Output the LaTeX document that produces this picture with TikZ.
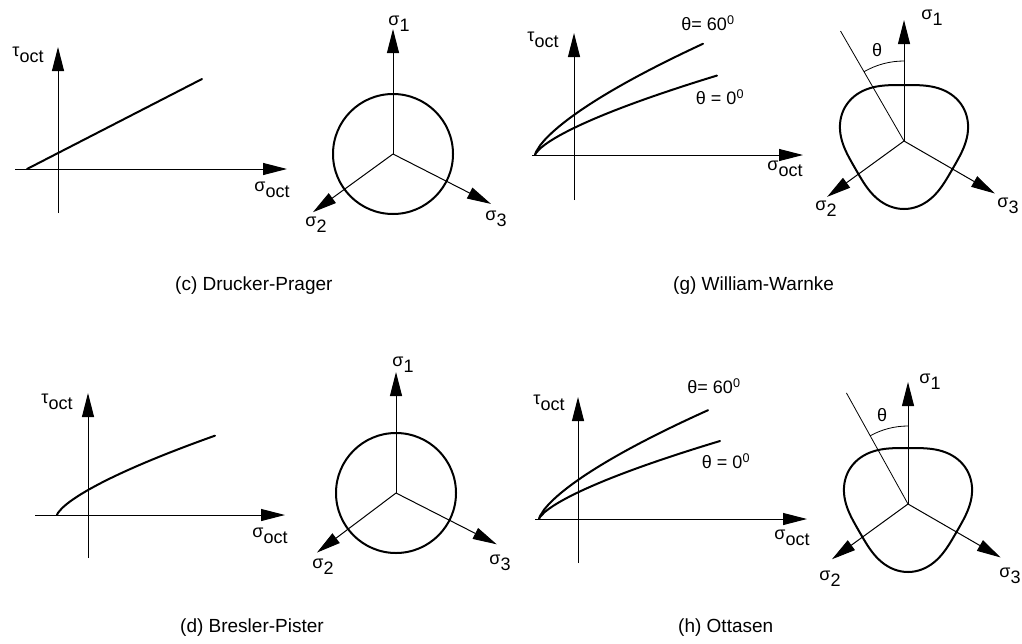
\documentclass[tikz,border=0pt]{standalone}
\usepackage{fontspec}
\setmainfont{Liberation Sans}
\usetikzlibrary{arrows.meta}

% letter with a lowered index in full size, as in the figure
\newcommand{\subl}[2]{#1\raisebox{-6pt}{#2}}

\begin{document}
\begin{tikzpicture}[x=1pt, y=-1pt, >={Triangle[length=24pt,width=12pt]},
  font=\fontsize{18}{20}\selectfont,
  ax/.style={line width=1pt, ->},
  thinline/.style={line width=0.8pt},
  curve/.style={line width=2pt, line cap=round},
  lbl/.style={inner sep=0pt},
  capt/.style={anchor=west, inner sep=0pt, font=\fontsize{19}{22}\selectfont},
  declare function={wwr(\p)=62+6*cos(3*(\p-30));}]
  \useasboundingbox (0,0) rectangle (1022,643);

  % (c) Drucker-Prager, meridian
  \draw[ax] (58,213) -- (58,47);
  \draw[ax] (15,169) -- (287,169);
  \draw[curve] (27,169) -- (202,79);
  \node[lbl] (c-tau) at (28,55) {\subl{τ}{oct}};
  \node[lbl] (c-sig) at (272,190) {\subl{σ}{oct}};

  % (c) deviatoric section
  \begin{scope}[shift={(393,154)}, yscale=-1]
    \draw[curve] (0,0) circle[radius=60];
    \draw[ax] (0,0) -- (90:125);
    \draw[ax] (0,0) -- (216:99);
    \draw[ax] (0,0) -- (333:110);
  \end{scope}
  \node[lbl] (c-s1) at (399,24) {\subl{σ}{1}};
  \node[lbl] (c-s2) at (316,225) {\subl{σ}{2}};
  \node[lbl] (c-s3) at (496,219) {\subl{σ}{3}};
  \node[capt] (c-cap) at (175,286) {(c) Drucker-Prager};

  % (g) William-Warnke, meridians
  \draw[ax] (574,200) -- (574,33);
  \draw[ax] (532,155) -- (803,155);
  \draw[curve] (535,155) -- plot[domain=1:168, samples=40] ({535+\x},{155-3.08*\x^0.7});
  \draw[curve] (535,155) -- plot[domain=1:182, samples=40] ({535+\x},{155-2.08*\x^0.7});
  \node[lbl] (g-tau) at (543,40) {\subl{τ}{oct}};
  \node[lbl] (g-sig) at (785,169) {\subl{σ}{oct}};
  \node[lbl] (g-t60) at (708,23) {θ=~60\textsuperscript{0}};
  \node[lbl] (g-t0) at (720,97) {θ = 0\textsuperscript{0}};

  % (g) deviatoric section
  \begin{scope}[shift={(904,141)}, yscale=-1]
    \draw[curve] plot[domain=0:360, samples=121] (\x:{wwr(\x)}) -- cycle;
    \draw[ax] (0,0) -- (90:121);
    \draw[ax] (0,0) -- (216:95);
    \draw[ax] (0,0) -- (330:105);
    \draw[thinline] (0,0) -- (120:127);
    \draw[thinline] (120:80) arc[start angle=120, end angle=90, radius=80];
  \end{scope}
  \node[lbl] (g-th) at (877,50) {θ};
  \node[lbl] (g-s1) at (932,18) {\subl{σ}{1}};
  \node[lbl] (g-s2) at (826,209) {\subl{σ}{2}};
  \node[lbl] (g-s3) at (1008,206) {\subl{σ}{3}};
  \node[capt] (g-cap) at (673,286) {(g) William-Warnke};

  % (d) Bresler-Pister, meridian
  \draw[ax] (88,558) -- (88,393);
  \draw[ax] (35,515) -- (285,515);
  \draw[curve] (57,515) -- plot[domain=1:158, samples=40] ({57+\x},{515-2.18*\x^0.71});
  \node[lbl] (d-tau) at (57,402) {\subl{τ}{oct}};
  \node[lbl] (d-sig) at (270,536) {\subl{σ}{oct}};

  % (d) deviatoric section
  \begin{scope}[shift={(396,493)}, yscale=-1]
    \draw[curve] (0,0) circle[radius=60];
    \draw[ax] (0,0) -- (90:121);
    \draw[ax] (0,0) -- (217:99);
    \draw[ax] (0,0) -- (333:113);
  \end{scope}
  \node[lbl] (d-s1) at (403,365) {\subl{σ}{1}};
  \node[lbl] (d-s2) at (323,567) {\subl{σ}{2}};
  \node[lbl] (d-s3) at (500,563) {\subl{σ}{3}};
  \node[capt] (d-cap) at (180,628) {(d) Bresler-Pister};

  % (h) Ottasen, meridians
  \draw[ax] (578,563) -- (578,397);
  \draw[ax] (535,519) -- (807,519);
  \draw[curve] (539,519) -- plot[domain=1:169, samples=40] ({539+\x},{519-3.0*\x^0.7});
  \draw[curve] (539,519) -- plot[domain=1:181, samples=40] ({539+\x},{519-2.05*\x^0.7});
  \node[lbl] (h-tau) at (549,403) {\subl{τ}{oct}};
  \node[lbl] (h-sig) at (792,538) {\subl{σ}{oct}};
  \node[lbl] (h-t60) at (714,386) {θ=~60\textsuperscript{0}};
  \node[lbl] (h-t0) at (726,461) {θ = 0\textsuperscript{0}};

  % (h) deviatoric section
  \begin{scope}[shift={(908,504)}, yscale=-1]
    \draw[curve] plot[domain=0:360, samples=121] (\x:{wwr(\x)}) -- cycle;
    \draw[ax] (0,0) -- (90:122);
    \draw[ax] (0,0) -- (216:94);
    \draw[ax] (0,0) -- (330:107);
    \draw[thinline] (0,0) -- (119:127);
    \draw[thinline] (119:78) arc[start angle=119, end angle=90, radius=78];
  \end{scope}
  \node[lbl] (h-th) at (882,415) {θ};
  \node[lbl] (h-s1) at (930,382) {\subl{σ}{1}};
  \node[lbl] (h-s2) at (830,579) {\subl{σ}{2}};
  \node[lbl] (h-s3) at (1010,576) {\subl{σ}{3}};
  \node[capt] (h-cap) at (678,628) {(h) Ottasen};
\end{tikzpicture}
\end{document}
